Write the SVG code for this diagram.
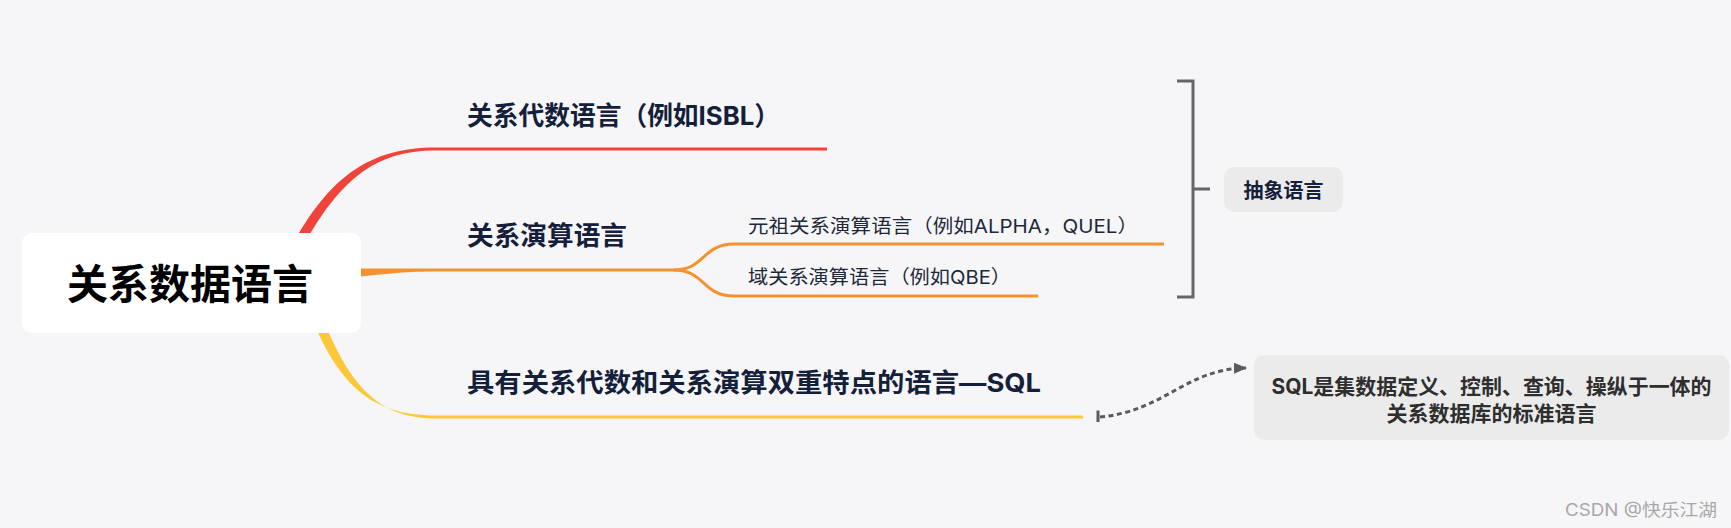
<svg xmlns="http://www.w3.org/2000/svg" width="1731" height="528" viewBox="0 0 1731 528">
<style>
  text { font-family: Inter, "Noto Sans CJK SC", sans-serif; }
  .root { font-size: 41px; font-weight: bold; fill: #000; }
  .main { font-size: 26px; font-weight: bold; fill: #14203a; }
  .sub { font-size: 19px; font-weight: normal; fill: #1e2838; }
  .note { font-size: 21px; font-weight: bold; fill: #2e2e2e; }
  .tag { font-size: 20px; font-weight: bold; fill: #14203a; }
  .wm { font-size: 17px; fill: #a8a8a8; }
  .line { fill: none; stroke-width: 3; stroke-linecap: butt; }
</style>
<defs>
  <marker id="arrow" viewBox="0 0 13 11" refX="12" refY="5.5" markerWidth="13" markerHeight="11" orient="auto" markerUnits="userSpaceOnUse">
    <path d="M0,0 L13,5.5 L0,11 Z" fill="#5a5a5a"/>
  </marker>
</defs>
<rect x="0" y="0" width="1731" height="528" fill="#f6f6f8"/>

<g id="connectors">
  <!-- red branch -->
  <path d="M285.5,257.8 C326,178 368,147.5 436,147.5 L436,150.5 C372,150.5 336,182 294.5,262.2 Z" fill="#f0443a"/>
  <path class="line" d="M436,149 L827,149" stroke="#f0443a"/>
  <!-- orange branch -->
  <path d="M340,268.5 C390,268.5 410,268.5 436,268.5 L436,271.5 C410,271.5 390,273 340,279 Z" fill="#f5922f"/>
  <path class="line" d="M436,270 L674,270" stroke="#f5922f"/>
  <path class="line" d="M674,270 C705,270 702,244 734,244 L1164,244" stroke="#f5922f"/>
  <path class="line" d="M674,270 C705,270 702,296 734,296 L1038,296" stroke="#f5922f"/>
  <!-- yellow branch -->
  <path d="M305.5,302 C335,382 368,415.5 436,415.5 L436,418.5 C372,418.5 345,378 314.5,298 Z" fill="#fcc83a"/>
  <path class="line" d="M436,417 L1083,417" stroke="#fcc83a"/>
  <!-- bracket -->
  <path d="M1177,81 L1193,81 L1193,297 L1177,297 M1193,189 L1210,189" fill="none" stroke="#666" stroke-width="3"/>
  <!-- dotted relation -->
  <path d="M1098,410.5 L1098,422" stroke="#5a5a5a" stroke-width="3"/>
  <path d="M1100,417 C1165,411 1185,369 1246,368" fill="none" stroke="#5a5a5a" stroke-width="3" stroke-dasharray="5 3.5" marker-end="url(#arrow)"/>
</g>

<g id="root">
  <rect x="22" y="233" width="339" height="100" rx="10" fill="#ffffff"/>
  <text class="root" x="190" y="299" text-anchor="middle">关系数据语言</text>
</g>

<g id="branch1">
  <text class="main" x="467" y="125" textLength="313" lengthAdjust="spacingAndGlyphs">关系代数语言（例如ISBL）</text>
</g>

<g id="branch2">
  <text class="main" x="467" y="245" textLength="160" lengthAdjust="spacingAndGlyphs">关系演算语言</text>
</g>

<g id="branch2a">
  <text class="sub" x="748" y="233" textLength="390" lengthAdjust="spacingAndGlyphs">元祖关系演算语言（例如ALPHA，QUEL）</text>
</g>

<g id="branch2b">
  <text class="sub" x="748" y="284" textLength="263" lengthAdjust="spacingAndGlyphs">域关系演算语言（例如QBE）</text>
</g>

<g id="branch3">
  <text class="main" x="467" y="392" textLength="574" lengthAdjust="spacingAndGlyphs">具有关系代数和关系演算双重特点的语言—SQL</text>
</g>

<g id="summary">
  <rect x="1224" y="167" width="119" height="45" rx="10" fill="#ebebeb"/>
  <text class="tag" x="1283.5" y="198" text-anchor="middle">抽象语言</text>
</g>

<g id="note">
  <rect x="1254" y="355" width="475" height="85" rx="10" fill="#ebebeb"/>
  <text class="note" x="1491.5" y="393.5" text-anchor="middle" textLength="440" lengthAdjust="spacingAndGlyphs">SQL是集数据定义、控制、查询、操纵于一体的</text>
  <text class="note" x="1491.5" y="420.5" text-anchor="middle">关系数据库的标准语言</text>
</g>

<g id="watermark">
  <text class="wm" x="1565" y="516" textLength="152" lengthAdjust="spacingAndGlyphs">CSDN @快乐江湖</text>
</g>
</svg>
